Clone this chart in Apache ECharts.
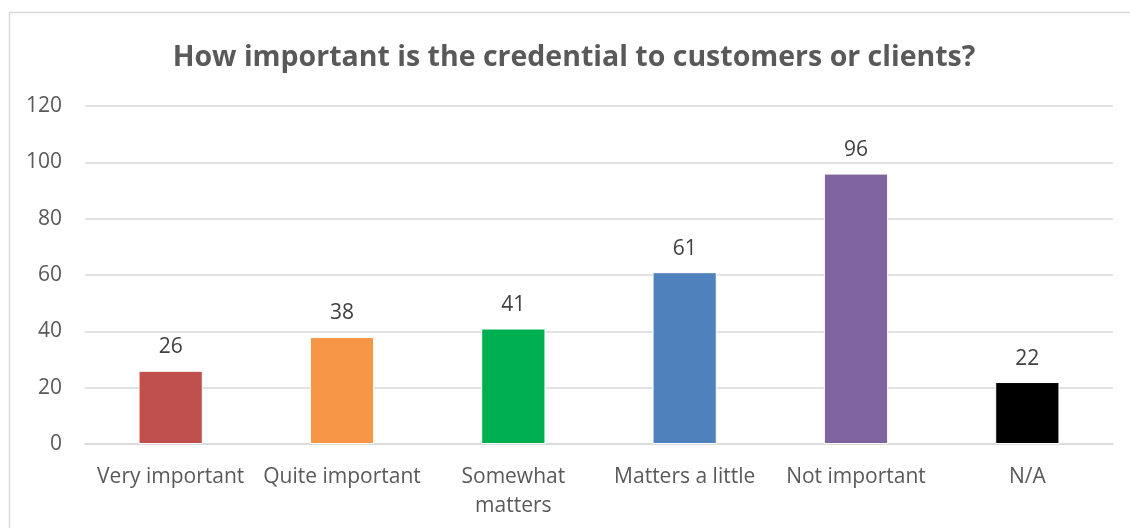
<!DOCTYPE html>
<html><head><meta charset="utf-8">
<script src="https://cdn.jsdelivr.net/npm/echarts@6/dist/echarts.min.js"></script>
<style>html,body{margin:0;padding:0;background:#fff}#c{width:1130px;height:528px}</style>
</head><body><div id="c"></div>
<script>
const titleText = "How important is the credential to customers or clients?";
const categories = ["Very important", "Quite important", "Somewhat\nmatters", "Matters a little", "Not important", "N/A"];
const values = [26, 38, 41, 61, 96, 22];
const barColors = ["#C0504D", "#F79646", "#00B050", "#4F81BD", "#8064A2", "#000000"];
const yTicks = [0, 20, 40, 60, 80, 100, 120];

const chart = echarts.init(document.getElementById('c'), null, {renderer: 'canvas'});
const font = "'Open Sans', 'Noto Sans', sans-serif";
chart.setOption({
  animation: false,
  backgroundColor: '#fff',
  graphic: [{
    type: 'rect', left: 7, top: 10,
    shape: {x: 0, y: 0, width: 1140, height: 540},
    style: {fill: 'none', stroke: '#D9D9D9', lineWidth: 1.5},
    silent: true, z: -1
  }],
  title: {
    text: titleText, left: 569, top: 38, textAlign: 'center',
    textStyle: {fontFamily: font, fontSize: 28.5, fontWeight: 'bold', color: '#595959'}
  },
  grid: {left: 85, right: 17, top: 106, bottom: 84, containLabel: false},
  xAxis: {
    type: 'category', data: categories,
    axisLine: {lineStyle: {color: '#D9D9D9', width: 1.5}},
    axisTick: {show: false},
    axisLabel: {fontFamily: font, fontSize: 21, color: '#595959', margin: 19, lineHeight: 29, interval: 0}
  },
  yAxis: {
    type: 'value', min: yTicks[0], max: yTicks[yTicks.length - 1], interval: 20,
    axisLine: {show: false}, axisTick: {show: false},
    axisLabel: {fontFamily: font, fontSize: 21, color: '#595959', margin: 23},
    splitLine: {lineStyle: {color: '#D9D9D9', width: 1.5}}
  },
  series: [{
    type: 'bar', barWidth: '37.5%',
    data: values.map((v, i) => ({value: v, itemStyle: {color: barColors[i]}})),
    itemStyle: {borderColor: '#fff', borderWidth: 1},
    label: {show: true, position: 'top', distance: 13, fontFamily: font, fontSize: 21, color: '#404040'}
  }]
});
</script></body></html>
